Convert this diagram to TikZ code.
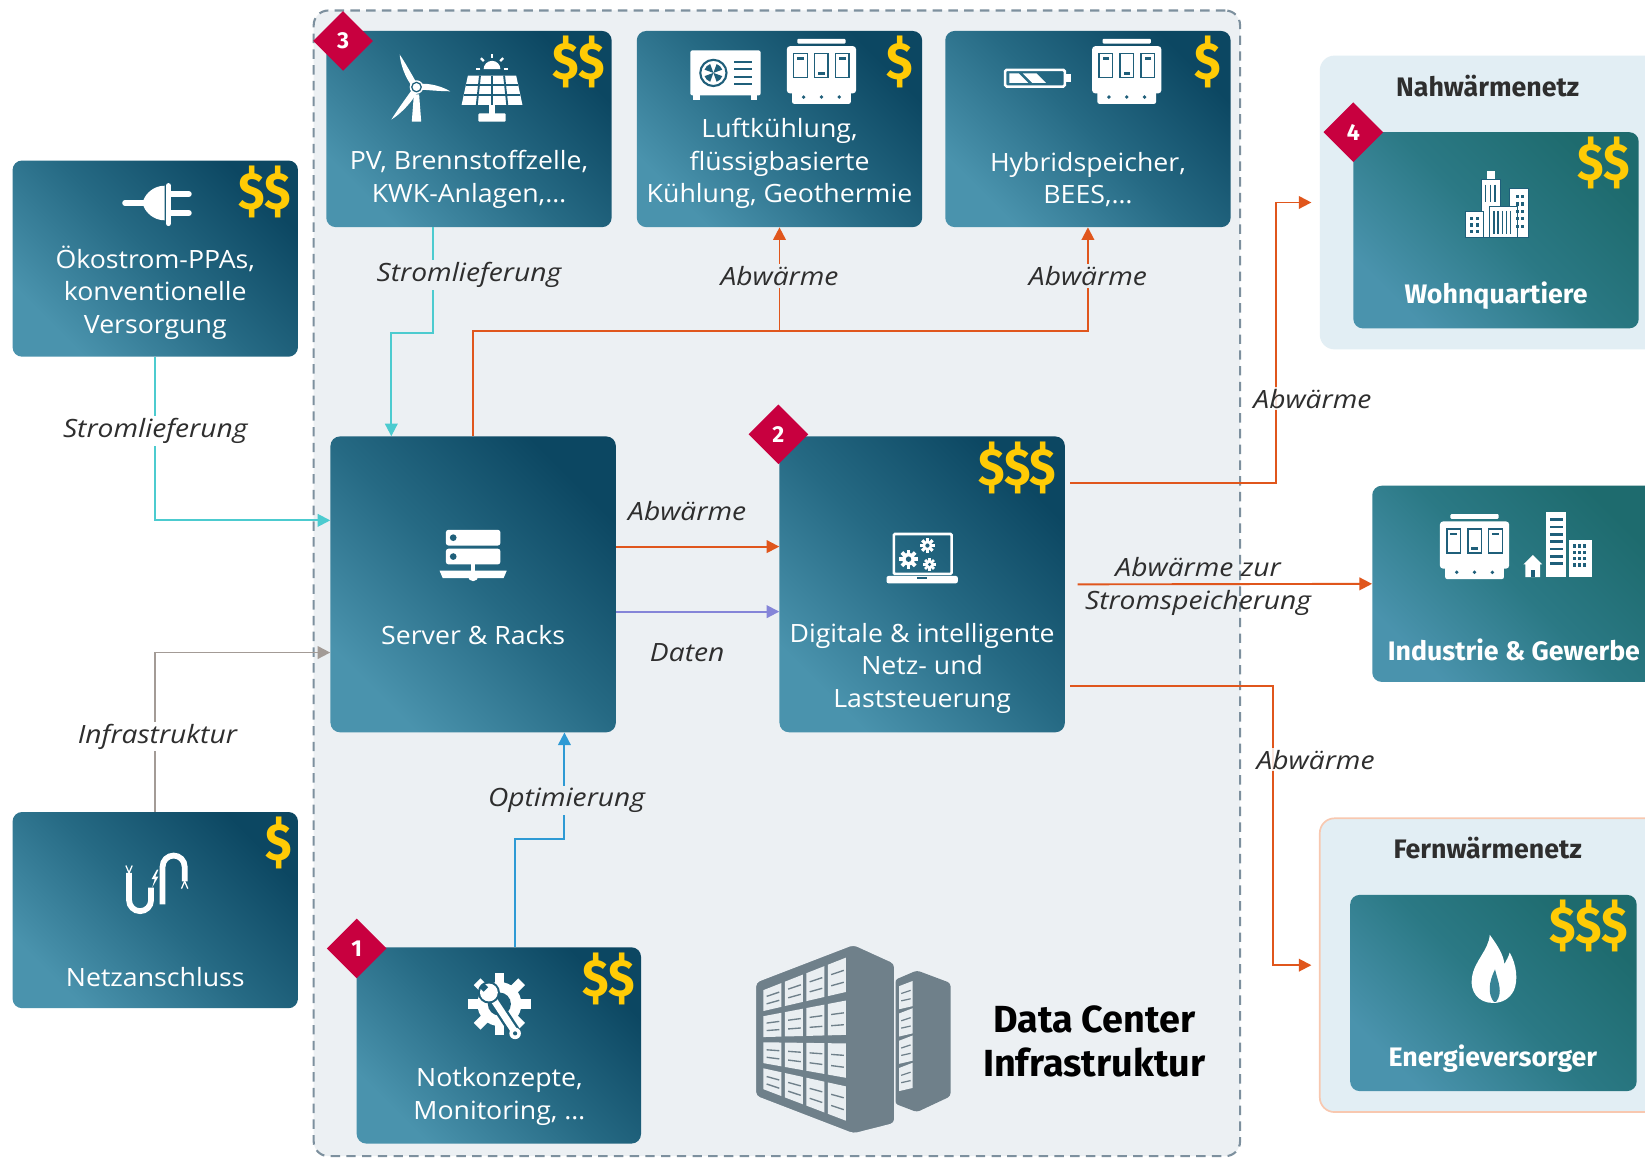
\documentclass[tikz,border=0pt]{standalone}
\usepackage{fontspec}
\setmainfont{Open Sans}[FakeStretch=1.06]
\newfontfamily\labfont{Open Sans}[FakeStretch=1.12]
\newfontfamily\headfont{Fira Sans}
\usetikzlibrary{arrows.meta,shapes.geometric,calc}

\definecolor{cbg}{HTML}{ECF0F3}
\definecolor{cdash}{HTML}{7D909E}
\definecolor{bxA}{HTML}{0C4762}
\definecolor{bxB}{HTML}{4A93AD}
\definecolor{bxM}{HTML}{266A84}
\definecolor{gA}{HTML}{1E6B6E}
\definecolor{gM}{HTML}{2B7985}
\definecolor{icondark}{HTML}{1F5F7A}
\definecolor{gold}{HTML}{FFCB05}
\definecolor{crim}{HTML}{C8003F}
\definecolor{orng}{HTML}{E0561C}
\definecolor{tealc}{HTML}{4CCBCF}
\definecolor{grayc}{HTML}{A39B96}
\definecolor{purp}{HTML}{8585D8}
\definecolor{bluec}{HTML}{2E9AD4}
\definecolor{netbg}{HTML}{E2EEF4}
\definecolor{peach}{HTML}{F8C8B0}
\definecolor{dcgray}{HTML}{6F808A}
\definecolor{dcwin}{HTML}{E9EEF1}
\definecolor{lbl}{HTML}{2E2E2E}

\pgfmathdeclarefunction{dcy}{2}{\pgfmathparse{942-34*#1+#2*(98+67*#1)}}

\newcommand\dol[1]{\scalebox{0.92}[1]{\headfont\fontsize{50}{50}\selectfont\bfseries #1}}

% gear: x, y, body radius, tooth tip radius, tooth half width, teeth
\newcommand\gearshape[6]{%
  \fill[white] (#1,#2) circle (#3pt);
  \pgfmathsetmacro\gstep{360/#6}
  \foreach \k in {1,...,#6}{%
    \pgfmathsetmacro\ga{\k*\gstep}
    \fill[white, rotate around={\ga:(#1,#2)}] (#1+#3-1,#2-#5) rectangle (#1+#4,#2+#5);
  }}

% storage cabinet icon centred at x, y
\newcommand\cabinet[2]{%
  \begin{scope}[shift={(#1,#2)}]
    \fill[white, rounded corners=1pt] (-23,-31) rectangle (23,-26.5);
    \fill[white, rounded corners=3pt] (-33,-24) rectangle (33,21);
    \fill[white, rounded corners=2pt] (-28,18) rectangle (28,31);
    \foreach \sx/\my in {-20/-12, 0/2, 20/-12}{%
      \draw[icondark, line width=1.5pt] (\sx-6.5,-17) rectangle (\sx+6.5,6);
      \fill[icondark] (\sx-3,\my-1.2) rectangle (\sx+3,\my+1.2);
    }
    \foreach \dx in {-17,0,17} \fill[icondark] (\dx,24.5) circle (1.8pt);
  \end{scope}}

\begin{document}
\begin{tikzpicture}[x=1pt, y=-1pt,
  box/.style={top color=bxA, bottom color=bxB, middle color=bxM, shading angle=-45,
    rounded corners=9pt, minimum width=272pt, minimum height=187pt, inner sep=0pt},
  gbox/.style={box, top color=gA, bottom color=bxB, middle color=gM, shading angle=-45},
  btxt/.style={text=white, font=\fontsize{24}{31}\selectfont, align=center, inner sep=0pt},
  bold/.style={text=white, font=\headfont\fontsize{25.5}{30}\selectfont\bfseries, inner sep=0pt},
  ttl/.style={text=lbl, font=\headfont\fontsize{25.5}{30}\selectfont\bfseries, inner sep=0pt},
  lab/.style={text=lbl, font=\labfont\fontsize{24}{31}\selectfont\itshape, align=center, inner sep=2pt},
  dollar/.style={text=gold, inner sep=0pt, anchor=north east},
  diam/.style={diamond, fill=crim, minimum width=57pt, minimum height=57pt, inner sep=0pt,
    text=white, font=\headfont\fontsize{22}{22}\selectfont\bfseries},
  arr/.style={-{Triangle[length=12pt,width=12pt]}, line width=1.8pt},
]
\useasboundingbox (0,0) rectangle (1568,1103);
\clip (0,0) rectangle (1568,1103);
\fill[white] (0,0) rectangle (1568,1103);

% containers
\node[draw=cdash, fill=cbg, line width=2pt, dash pattern=on 9pt off 6pt, rounded corners=14pt,
  minimum width=883pt, minimum height=1092pt, inner sep=0pt] (dc) at (740.5,556) {};
\node[fill=netbg, rounded corners=14pt, minimum width=350pt, minimum height=280pt] (nah) at (1433,193) {};
\node[fill=netbg, draw=peach, line width=1.6pt, rounded corners=14pt, minimum width=350pt,
  minimum height=280pt] (fern) at (1433,920) {};

% boxes
\node[box] (b3) at (447,123) {};
\node[box] (cool) at (743,123) {};
\node[box] (hyb) at (1037,123) {};
\node[box] (oeko) at (148,246.5) {};
\node[box, minimum height=282pt] (srv) at (451,557) {};
\node[box, minimum height=282pt] (dig) at (879,557) {};
\node[box] (netz) at (148,867.5) {};
\node[box, minimum width=271pt] (notk) at (475.5,996.5) {};
\node[gbox] (wohn) at (1426,219.5) {};
\node[gbox] (ind) at (1444,556.5) {};
\node[gbox, minimum width=273pt] (energ) at (1423.5,946.5) {};

% connectors
\coordinate (j1) at (743,316);
\coordinate (nahIn) at (1250,193);
\coordinate (fernIn) at (1250,920);
\draw[tealc, arr] ([xshift=-34pt]b3.south) -- ++(0,101) -| ([xshift=-78pt]srv.north);
\draw[tealc, arr] (oeko.south) |- ([yshift=61pt]srv.west);
\draw[grayc, arr] (netz.north) |- ([yshift=-65pt]srv.west);
\draw[orng, arr] ([yshift=36pt]srv.east) -- ([yshift=36pt]dig.west);
\draw[purp, arr] ([yshift=-26pt]srv.east) -- ([yshift=-26pt]dig.west);
\draw[bluec, arr] ([xshift=15.5pt]notk.north) -- ++(0,-103) -| ([xshift=87pt]srv.south);
\draw[orng, arr] (srv.north) -- ++(0,-100) -| (hyb.south);
\draw[orng, arr] (j1) -- (cool.south);
\draw[orng, arr] ([xshift=5pt,yshift=97pt]dig.east) -- ++(196,0) |- (nahIn);
\draw[orng, arr] ([xshift=12pt]dig.east) -- (ind.west);
\draw[orng, arr] ([xshift=5pt,yshift=-97pt]dig.east) -- ++(193,0) |- (fernIn);

% connector labels
\node[lab, fill=cbg] (l1) at (447,262) {Stromlieferung};
\node[lab, fill=cbg] (l2) at (743,263) {Abwärme};
\node[lab, fill=cbg] (l3) at (1037,263) {Abwärme};
\node[lab, fill=white] (l4) at (148,411) {Stromlieferung};
\node[lab, fill=white] (l5) at (150,702) {Infrastruktur};
\node[lab] (l6) at (655,487) {Abwärme};
\node[lab] (l7) at (655,622) {Daten};
\node[lab, fill=cbg] (l8) at (540,763) {Optimierung};
\node[lab, fill=white, fill opacity=0.85, text opacity=1] (l9) at (1251,380) {Abwärme};
\node[lab] (l10) at (1142,559) {Abwärme zur\\Stromspeicherung};
\node[lab, fill=white, fill opacity=0.85, text opacity=1] (l11) at (1254,724) {Abwärme};

% box texts
\node[btxt] (t1) at (447,171) {PV, Brennstoffzelle,\\KWK-Anlagen,…};
\node[btxt] (t2) at (743,156) {Luftkühlung,\\flüssigbasierte\\Kühlung, Geothermie};
\node[btxt] (t3) at (1037,171) {Hybridspeicher,\\BEES,…};
\node[btxt] (t4) at (148,279) {Ökostrom-PPAs,\\konventionelle\\Versorgung};
\node[btxt] (t5) at (451,605) {Server \& Racks};
\node[btxt] (t6) at (879,637) {Digitale \& intelligente\\Netz- und\\Laststeuerung};
\node[btxt] (t7) at (148,931) {Netzanschluss};
\node[btxt] (t8) at (476,1045) {Notkonzepte,\\Monitoring, …};
\node[bold] (t9) at (1426,282) {Wohnquartiere};
\node[bold] (t10) at (1443,619) {Industrie \& Gewerbe};
\node[bold] (t11) at (1423,1009) {Energieversorger};
\node[ttl] (t12) at (1418,82) {Nahwärmenetz};
\node[ttl] (t13) at (1418,808) {Fernwärmenetz};
\node[text=black, font=\headfont\fontsize{36}{42}\selectfont\bfseries, align=center, inner sep=0pt]
  (t14) at (1043,993) {Data Center\\Infrastruktur};

% cost markers
\node[dollar] (p1) at ([xshift=-6pt,yshift=-5pt]b3.north east) {\dol{\$\$}};
\node[dollar] (p2) at ([xshift=-9pt,yshift=-5pt]cool.north east) {\dol{\$}};
\node[dollar] (p3) at ([xshift=-9pt,yshift=-5pt]hyb.north east) {\dol{\$}};
\node[dollar] (p4) at ([xshift=-7pt,yshift=-5pt]oeko.north east) {\dol{\$\$}};
\node[dollar] (p5) at ([xshift=-8pt,yshift=-5pt]dig.north east) {\dol{\$\$\$}};
\node[dollar] (p6) at ([xshift=-6pt,yshift=-5pt]netz.north east) {\dol{\$}};
\node[dollar] (p7) at ([xshift=-6pt,yshift=-5pt]notk.north east) {\dol{\$\$}};
\node[dollar] (p8) at ([xshift=-8pt,yshift=-5pt]wohn.north east) {\dol{\$\$}};
\node[dollar] (p9) at ([xshift=-8pt,yshift=-5pt]energ.north east) {\dol{\$\$\$}};

% wind turbine
\coordinate (h) at (397,83);
\coordinate (w1) at (381,52);
\coordinate (w2) at (429,87);
\coordinate (w3) at (373,114);
\fill[white] (394.5,90) -- (399.5,90) -- (401.5,116) -- (392.5,116) -- cycle;
\foreach \n in {w1,w2,w3}{%
  \fill[white] ($(h)!3pt!90:(\n)$) .. controls ($(h)!0.4!(\n)!6pt!90:(\n)$) and ($(h)!0.8!(\n)!3pt!90:(\n)$) .. (\n)
    .. controls ($(h)!0.75!(\n)!1pt!-90:(\n)$) and ($(h)!0.4!(\n)!1.5pt!-90:(\n)$) .. ($(h)!2pt!-90:(\n)$) -- cycle;
}
\fill[white] (h) circle (6.5pt);
\draw[icondark, line width=1.2pt] (h) circle (4.5pt);
% solar panel
\fill[white] (461,66) arc[start angle=180, end angle=0, radius=8pt] -- cycle;
\foreach \a in {0,45,90,135,180}
  \draw[white, line width=2.2pt] ($(469,66)+(\a:11pt)$) -- ($(469,66)+(\a:15pt)$);
\fill[white] (446,72) -- (492,72) -- (498,100) -- (440,100) -- cycle;
\foreach \u in {0.25,0.5,0.75}
  \draw[icondark, line width=1.8pt] ({446+46*\u},72) -- ({440+58*\u},100);
\foreach \v in {0.333,0.667}
  \draw[icondark, line width=1.8pt] ({446-6*\v},{72+28*\v}) -- ({492+6*\v},{72+28*\v});
\fill[white] (466,100) rectangle (472,109);
\fill[white, rounded corners=1pt] (456,108) rectangle (482,116);

% outdoor cooling unit
\fill[white, rounded corners=2pt] (658,48) rectangle (725,91);
\fill[white] (661,90) rectangle (667,95);
\fill[white] (716,90) rectangle (722,95);
\draw[icondark, line width=2pt] (680,69.5) circle (12.5pt);
\foreach \a in {20,110,200,290}
  \fill[icondark] (680,69.5) -- ++(\a:9pt) arc[start angle=\a, delta angle=50, radius=9pt] -- cycle;
\foreach \y in {59,66,73,80} \draw[icondark, line width=1.8pt] (700,\y) -- (717,\y);
\cabinet{783}{68}

% battery
\draw[white, line width=2.4pt, rounded corners=1.5pt] (958,66.5) rectangle (1015,82.5);
\fill[white] (1016,70.5) rectangle (1021,78.5);
\fill[white] (962,70) -- (971,70) -- (980,79) -- (962,79) -- cycle;
\fill[white] (975,70) -- (988,70) -- (997,79) -- (984,79) -- cycle;
\cabinet{1074}{68}

% plug
\draw[white, line width=5pt, line cap=round] (119,193.5) -- (140,193.5);
\fill[white] (157,177) -- (157,210) .. controls (146,210) and (139,202) .. (137,197) -- (137,190)
  .. controls (139,185) and (146,177) .. (157,177) -- cycle;
\draw[white, line width=5pt, line cap=round] (160.5,177) -- (160.5,213);
\draw[white, line width=5.5pt, line cap=round] (162,185) -- (180,185);
\draw[white, line width=5.5pt, line cap=round] (162,203) -- (180,203);

% server
\fill[white, rounded corners=2.5pt] (425,505) rectangle (477,520);
\fill[white, rounded corners=2.5pt] (425,523) rectangle (477,538);
\fill[icondark] (432,512.5) circle (3.2pt);
\fill[icondark] (432,530.5) circle (3.2pt);
\fill[white] (449,537) rectangle (453,548);
\fill[white] (419,544) -- (483,544) -- (480,551) -- (422,551) -- cycle;
\fill[white] (451,549) circle (5pt);

% laptop with gears
\draw[white, line width=2.4pt, rounded corners=1pt] (852,509) rectangle (907,547);
\fill[white, rounded corners=2pt] (845,549) rectangle (913,556);
\fill[icondark] (874,550) rectangle (884,552);
\gearshape{866}{533}{6}{9}{1.8}{8}
\fill[icondark] (866,533) circle (2.6pt);
\gearshape{884}{520}{4.5}{7}{1.5}{8}
\fill[icondark] (884,520) circle (2pt);
\gearshape{886}{538}{3.8}{6}{1.3}{8}
\fill[icondark] (886,538) circle (1.6pt);

% cable
\draw[white, line width=5.5pt] (123,832) -- (123,858) arc[start angle=180, end angle=360, radius=10.5pt] -- (144,846);
\draw[white, line width=5.5pt] (155,862) -- (155,826) arc[start angle=180, end angle=0, radius=10.5pt] -- (176,840);
\fill[white] (149.5,829) -- (144.5,838) -- (147.5,838) -- (145,846) -- (151,835.5) -- (148,835.5) -- (151,829) -- cycle;
\draw[white, line width=1.2pt] (123,832) -- (120,825) (123,832) -- (126,825);
\draw[white, line width=1.2pt] (176,840) -- (173,847) (176,840) -- (179,847);

% gear and wrench
\gearshape{476}{957}{21}{30}{4.5}{8}
\fill[icondark] (476,957) circle (11pt);
\draw[icondark, line width=11pt, line cap=round] (466,946) -- (491,984);
\draw[white, line width=6.5pt, line cap=round] (466,946) -- (491,984);
\fill[icondark] (466,946) circle (10.5pt);
\fill[white] (466,946) circle (8.5pt);
\fill[icondark, rotate around={45:(461,941)}] (458,938) rectangle (464,944);
\fill[white] (491,985) circle (5.5pt);
\fill[icondark] (491,985) circle (2pt);

% city
\fill[white] (1417,163) rectangle (1425,173);
\draw[icondark, line width=1pt, fill=white] (1412,171) rectangle (1430,226);
\draw[icondark, line width=1pt, fill=white] (1439,180) rectangle (1457,226);
\draw[icondark, line width=1pt, fill=white] (1420,197) rectangle (1446,226);
\draw[icondark, line width=1pt, fill=white] (1397,202) rectangle (1414,226);
\foreach \x in {1416,1420.5,1425} \draw[icondark, line width=1.3pt] (\x,176) -- (\x,193);
\foreach \x in {1424,1428,1432,1436,1440} \draw[icondark, line width=1.3pt] (\x,201) -- (\x,223);
\foreach \y in {186,193,200,207,214} {\fill[icondark] (1445,\y) rectangle (1447.5,\y+3); \fill[icondark] (1450,\y) rectangle (1452.5,\y+3);}
\foreach \y in {207,213,219} {\fill[icondark] (1401,\y) rectangle (1404,\y+3); \fill[icondark] (1407,\y) rectangle (1410,\y+3);}

% industry and business
\cabinet{1405.5}{521}
\fill[white] (1452,538) -- (1461,529) -- (1470,538) -- (1468,538) -- (1468,550) -- (1454,550) -- (1454,538) -- cycle;
\fill[icondark] (1459,543) rectangle (1463,550);
\fill[white] (1474,488) rectangle (1493,550);
\foreach \y in {494,501,508,515,522,529,536}
  \fill[icondark] (1477.5,\y) rectangle (1489.5,\y+2.5);
\fill[white] (1496,515) rectangle (1517,550);
\foreach \y in {519,525,531,537}
  \foreach \x in {1499,1504,1509} \fill[icondark] (\x,\y) rectangle (\x+3,\y+3);

% flame
\fill[white] (1423,956) .. controls (1409,956) and (1401,945) .. (1403,932)
  .. controls (1405,916) and (1419,906) .. (1420,891)
  .. controls (1428,902) and (1433,910) .. (1434,919)
  .. controls (1436,915) and (1438,912) .. (1439,908)
  .. controls (1446,920) and (1447,935) .. (1443,944)
  .. controls (1439,952) and (1432,956) .. (1423,956) -- cycle;
\fill[gM!60!bxB] (1424,955) .. controls (1418,948) and (1419,936) .. (1425,924)
  .. controls (1428,936) and (1433,946) .. (1426,955) -- cycle;

% data centre building
\fill[dcgray, rounded corners=3pt] (853,934) -- (874,925) -- (906,937) -- (906,1045) -- (874,1060) -- (853,1052) -- cycle;
\foreach \j in {0,...,3}{%
  \pgfmathsetmacro\ra{940+26*\j}
  \pgfmathsetmacro\rb{940+26*\j+22}
  \fill[dcwin] (857,\ra) -- (870,\ra-5) -- (870,\rb-3) -- (857,\rb) -- cycle;
  \draw[dcgray, line width=1.2pt] (859,\ra+7) -- (868,\ra+4) (859,\ra+14) -- (868,\ra+12);
}
\filldraw[fill=dcgray, draw=cbg, line width=1.5pt, rounded corners=4pt]
  (720,936) -- (813.5,900) -- (853,918) -- (853,1071) -- (813.5,1081) -- (720,1045) -- cycle;
\foreach \i in {0,...,3}{%
  \foreach \j in {0,...,3}{%
    \pgfmathsetmacro\ua{\i/4+0.02}
    \pgfmathsetmacro\ub{(\i+1)/4-0.02}
    \pgfmathsetmacro\va{\j/4+0.025}
    \pgfmathsetmacro\vb{(\j+1)/4-0.025}
    \pgfmathsetmacro\vc{\va+0.35*(\vb-\va)}
    \pgfmathsetmacro\vd{\va+0.7*(\vb-\va)}
    \pgfmathsetmacro\ue{\ua+0.18*(\ub-\ua)}
    \pgfmathsetmacro\uf{\ub-0.12*(\ub-\ua)}
    \fill[dcwin] ({726+82*\ua},{dcy(\ua,\va)}) -- ({726+82*\ub},{dcy(\ub,\va)})
      -- ({726+82*\ub},{dcy(\ub,\vb)}) -- ({726+82*\ua},{dcy(\ua,\vb)}) -- cycle;
    \draw[dcgray, line width=1.3pt] ({726+82*\ue},{dcy(\ue,\vc)}) -- ({726+82*\uf},{dcy(\uf,\vc)})
      ({726+82*\ue},{dcy(\ue,\vd)}) -- ({726+82*\uf},{dcy(\uf,\vd)});
  }}

% step markers
\node[diam] (d3) at (327,39) {3};
\node[diam] (d2) at (742,414) {2};
\node[diam] (d1) at (340,904) {1};
\node[diam] (d4) at (1290,126) {4};
\end{tikzpicture}
\end{document}
